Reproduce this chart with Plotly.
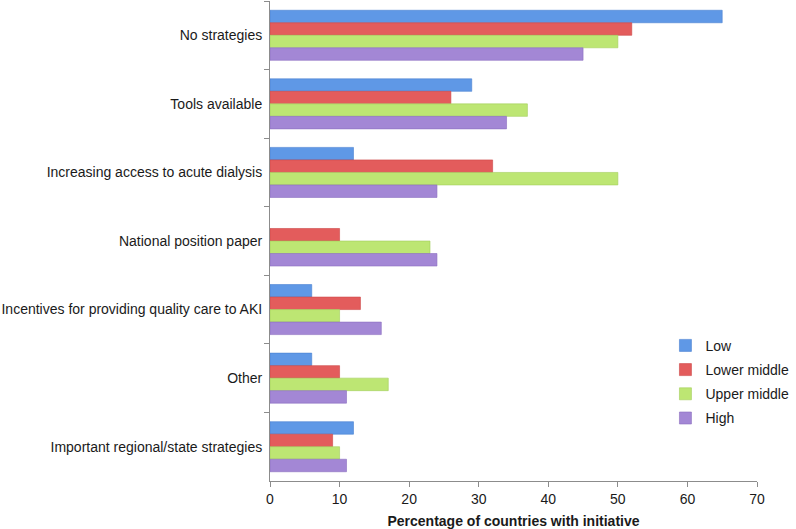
import plotly.graph_objects as go

categories = [
    "No strategies",
    "Tools available",
    "Increasing access to acute dialysis",
    "National position paper",
    "Incentives for providing quality care to AKI",
    "Other",
    "Important regional/state strategies",
]
series_names = ["Low", "Lower middle", "Upper middle", "High"]
low = [65, 29, 12, 0, 6, 6, 12]
lower_middle = [52, 26, 32, 10, 13, 10, 9]
upper_middle = [50, 37, 50, 23, 10, 17, 10]
high = [45, 34, 24, 24, 16, 11, 11]
x_ticks = [0, 10, 20, 30, 40, 50, 60, 70]

colors = ["#5f98e6", "#e35c5c", "#bde673", "#a387d5"]
edge = ["#4a82d2", "#cc4646", "#a3cf5a", "#8b6fbf"]

fig = go.Figure()
for name, vals, c, e in zip(series_names, [low, lower_middle, upper_middle, high], colors, edge):
    fig.add_trace(go.Bar(
        y=categories, x=vals, name=name, orientation="h",
        marker=dict(color=c, line=dict(color=e, width=[0.6 if v > 0 else 0 for v in vals])),
        legendgroup=name,
    ))

font_family = "Liberation Sans, Arial, sans-serif"
fig.update_layout(
    width=796, height=529,
    margin=dict(l=270, r=39, t=1, b=48),
    barmode="group", bargap=0.27, bargroupgap=0,
    plot_bgcolor="white", paper_bgcolor="white",
    font=dict(family=font_family, size=14, color="#1a1a1a"),
    legend=dict(
        x=0.812, y=0.315, xanchor="left", yanchor="top",
        traceorder="grouped", tracegroupgap=3,
        font=dict(size=14), bgcolor="rgba(0,0,0,0)",
    ),
    xaxis=dict(
        range=[0, 70], tickvals=x_ticks, showgrid=False, zeroline=False,
        showline=True, linecolor="#8c8c8c", linewidth=1,
        ticks="outside", ticklen=5, tickcolor="#8c8c8c",
        title=dict(text="<b>Percentage of countries with initiative</b>", standoff=10,
                   font=dict(size=14)),
    ),
    yaxis=dict(
        autorange="reversed", showgrid=False,
        showline=True, linecolor="#8c8c8c", linewidth=1,
        ticks="outside", ticklen=5, tickcolor="#8c8c8c", tickson="boundaries",
        ticklabelstandoff=4,
    ),
)

fig.write_html("out.html", config={"displayModeBar": False},
               post_script="document.body.style.margin='0';")
